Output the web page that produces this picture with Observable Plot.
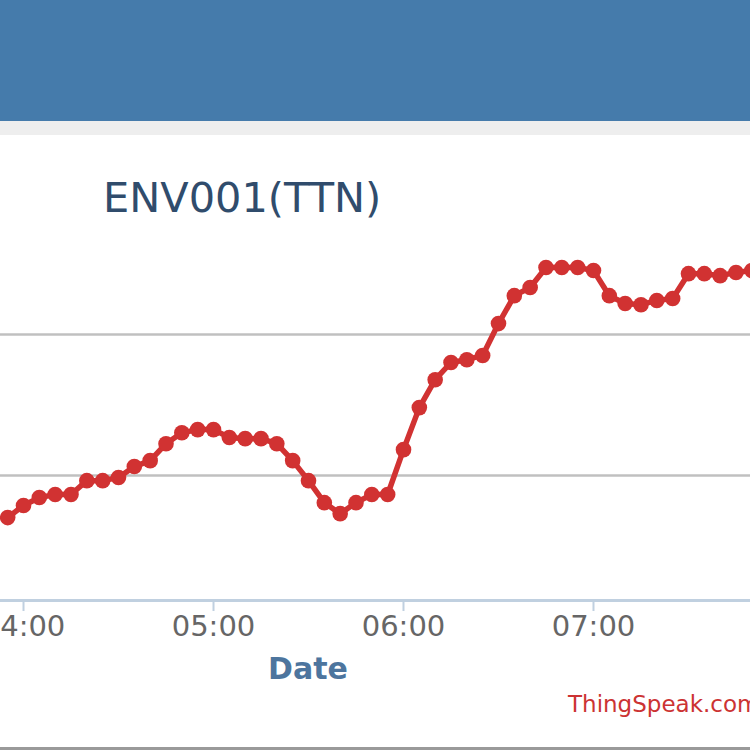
<!DOCTYPE html>
<html>
<head>
<meta charset="utf-8">
<script src="https://cdn.jsdelivr.net/npm/d3@7"></script>
<script src="https://cdn.jsdelivr.net/npm/@observablehq/plot@0.6"></script>
<style>
  html, body { margin: 0; padding: 0; background: #ffffff; overflow: hidden; }
  #page { position: relative; width: 750px; height: 750px; overflow: hidden; background: #ffffff; font-family: "DejaVu Sans", Verdana, sans-serif; }
  #topbar { position: absolute; left: 0; top: 0; width: 750px; height: 121px; background: #457bab; }
  #band { position: absolute; left: 0; top: 121px; width: 750px; height: 14px; background: #eeeeee; }
  #chart { position: absolute; left: 0; top: 135px; }
  .t { position: absolute; white-space: nowrap; line-height: 1; }
  #title { left: 103px; top: 177px; font-size: 41.5px; color: #304c6c; }
  #xlabel { left: 268px; top: 654px; font-size: 30px; font-weight: bold; color: #4d759e; }
  #credit { left: 568px; top: 693px; font-size: 23px; color: #cc3333; }
  #bottomline { position: absolute; left: 0; top: 747px; width: 750px; height: 3px; background: #9a9a9a; }
</style>
</head>
<body>
<div id="page">
  <div id="topbar"></div>
  <div id="band"></div>
  <div id="chart"></div>
  <div class="t" id="title">ENV001(TTN)</div>
  <div class="t" id="xlabel">Date</div>
  <div class="t" id="credit">ThingSpeak.com</div>
  <div id="bottomline"></div>
</div>
<script>
// ---- data ----
const times = [
  "03:55","04:00","04:05","04:10","04:15","04:20","04:25","04:30","04:35","04:40","04:45","04:50",
  "04:55","05:00","05:05","05:10","05:15","05:20","05:25","05:30","05:35","05:40","05:45","05:50",
  "05:55","06:00","06:05","06:10","06:15","06:20","06:25","06:30","06:35","06:40","06:45","06:50",
  "06:55","07:00","07:05","07:10","07:15","07:20","07:25","07:30","07:35","07:40","07:45","07:50"
];
const values = [
  13.51, 13.94, 14.22, 14.33, 14.33, 14.82, 14.82, 14.93, 15.32, 15.53, 16.13, 16.52,
  16.63, 16.63, 16.35, 16.31, 16.31, 16.13, 15.53, 14.82, 14.04, 13.65, 14.04, 14.33,
  14.33, 15.92, 17.41, 18.40, 19.01, 19.11, 19.26, 20.39, 21.38, 21.67, 22.38, 22.38,
  22.38, 22.27, 21.38, 21.10, 21.06, 21.21, 21.28, 22.16, 22.16, 22.09, 22.20, 22.27
];
const xTickLabels = ["04:00", "05:00", "06:00", "07:00"];
const xDomainLabels = ["03:52:44", "07:49:35"];   // visible crop window
const yGridValues = [15, 20];
const yDomain = [10.57, 27.06];

// ---- helpers ----
function toDate(s) {
  const p = s.split(":").map(Number);
  return new Date(Date.UTC(2018, 0, 1, p[0], p[1], p[2] || 0));
}
const data = times.map((t, i) => ({time: toDate(t), value: values[i]}));
const xTicks = xTickLabels.map(toDate);
const fmt = d3.utcFormat("%H:%M");

const red = "#d13232";

const chart = Plot.plot({
  width: 750,
  height: 615,
  marginLeft: 0,
  marginRight: 0,
  marginTop: 0,
  marginBottom: 150,
  style: {fontFamily: "DejaVu Sans, Verdana, sans-serif", background: "transparent", overflow: "hidden"},
  x: {type: "utc", domain: xDomainLabels.map(toDate), label: null},
  y: {domain: yDomain, axis: null, label: null},
  marks: [
    Plot.ruleY(yGridValues, {stroke: "#c0c0c0", strokeWidth: 2.5}),
    Plot.ruleY([yDomain[0]], {stroke: "#c0d0e0", strokeWidth: 3}),
    Plot.axisX({ticks: xTicks, tickSize: 11, text: null, stroke: "#c0d0e0", strokeWidth: 2, strokeOpacity: 1, label: null}),
    Plot.axisX({ticks: xTicks, tickSize: 0, tickPadding: 15, tickFormat: fmt, fill: "#666666", fontSize: 29, label: null}),
    Plot.line(data, {x: "time", y: "value", stroke: red, strokeWidth: 5.5, strokeLinejoin: "round"}),
    Plot.dot(data, {x: "time", y: "value", r: 7.8, fill: red, stroke: "none"})
  ]
});
document.getElementById("chart").appendChild(chart);
</script>
</body>
</html>
